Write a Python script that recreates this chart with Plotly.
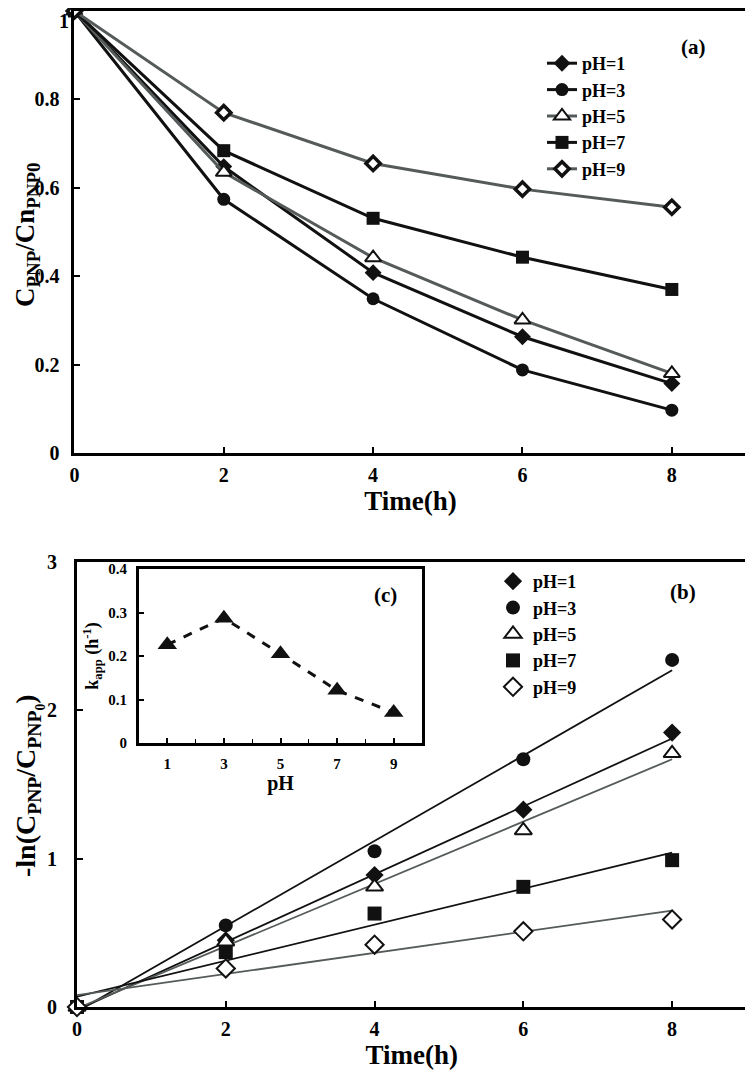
import plotly.graph_objects as go

time_h = [0, 2, 4, 6, 8]
labels = ["pH=1", "pH=3", "pH=5", "pH=7", "pH=9"]

# (a) C/C0 vs time
c_ph1 = [1, 0.648, 0.408, 0.263, 0.157]
c_ph3 = [1, 0.574, 0.349, 0.188, 0.097]
c_ph5 = [1, 0.635, 0.442, 0.301, 0.180]
c_ph7 = [1, 0.684, 0.531, 0.443, 0.370]
c_ph9 = [1, 0.770, 0.655, 0.597, 0.556]

# (b) -ln(C/C0) vs time
ln_ph1 = [0, 0.45, 0.89, 1.33, 1.85]
ln_ph3 = [0, 0.55, 1.05, 1.67, 2.34]
ln_ph5 = [0, 0.44, 0.81, 1.19, 1.71]
ln_ph7 = [0, 0.37, 0.63, 0.81, 0.99]
ln_ph9 = [0, 0.26, 0.42, 0.51, 0.59]

# linear fits, read at t=0 and t=8
fit_t = [0, 8]
fit_ph1 = [-0.02, 1.81]
fit_ph3 = [-0.03, 2.27]
fit_ph5 = [-0.01, 1.67]
fit_ph7 = [0.07, 1.04]
fit_ph9 = [0.08, 0.65]

# (c) k_app vs pH
ph_vals = [1, 3, 5, 7, 9]
k_app = [0.226, 0.287, 0.205, 0.121, 0.070]

FONT = "Liberation Serif"
BLACK = "#111111"
GRAY = "#555a5a"

# page has an 8px body margin, so the figure is sized to fit the window
W, H, OFF = 745, 1068, 8


def xp(px):
    return (px - OFF) / W


def yp(py):
    return 1 - (py - OFF) / H


styles = [
    dict(symbol="diamond", size=13, color=BLACK, line=dict(width=0), lc=BLACK),
    dict(symbol="circle", size=13, color=BLACK, line=dict(width=0), lc=BLACK),
    dict(symbol="triangle-up", size=14, color="white", line=dict(width=2, color=BLACK), lc=GRAY),
    dict(symbol="square", size=13, color=BLACK, line=dict(width=0), lc=BLACK),
    dict(symbol="diamond", size=11, color="white", line=dict(width=3.5, color=BLACK), lc=GRAY),
]
styles_b = [
    dict(symbol="diamond", size=14, color=BLACK, line=dict(width=0)),
    dict(symbol="circle", size=14, color=BLACK, line=dict(width=0)),
    dict(symbol="triangle-up", size=15, color="white", line=dict(width=2, color=BLACK)),
    dict(symbol="square", size=14, color=BLACK, line=dict(width=0)),
    dict(symbol="diamond", size=14, color="white", line=dict(width=2, color=BLACK)),
]

fig = go.Figure()

for name, ys, st in zip(labels, [c_ph1, c_ph3, c_ph5, c_ph7, c_ph9], styles):
    fig.add_trace(go.Scatter(
        x=time_h, y=ys, mode="lines+markers", name=name, legend="legend",
        line=dict(color=st["lc"], width=3),
        marker=dict(symbol=st["symbol"], size=st["size"], color=st["color"], line=st["line"]),
        cliponaxis=False, xaxis="x", yaxis="y"))

fit_colors = [BLACK, BLACK, GRAY, BLACK, GRAY]
for fy, fc in zip([fit_ph1, fit_ph3, fit_ph5, fit_ph7, fit_ph9], fit_colors):
    fig.add_trace(go.Scatter(
        x=fit_t, y=fy, mode="lines", showlegend=False,
        line=dict(color=fc, width=1.8), xaxis="x2", yaxis="y2"))

for name, ys, st in zip(labels, [ln_ph1, ln_ph3, ln_ph5, ln_ph7, ln_ph9], styles_b):
    fig.add_trace(go.Scatter(
        x=time_h, y=ys, mode="markers", name=name, legend="legend2",
        marker=dict(symbol=st["symbol"], size=st["size"], color=st["color"], line=st["line"]),
        cliponaxis=False, xaxis="x2", yaxis="y2"))

fig.add_trace(go.Scatter(
    x=ph_vals, y=k_app, mode="lines+markers", showlegend=False,
    line=dict(color=BLACK, width=3, dash="dash"),
    marker=dict(symbol="triangle-up", size=17, color=BLACK),
    cliponaxis=False, xaxis="x3", yaxis="y3"))

tickfont = dict(family=FONT, size=20, color="black", weight="bold")
titlefont = dict(family=FONT, size=27, color="black", weight="bold")
main_axis = dict(showline=True, linewidth=3, linecolor="black", mirror=True,
                 showgrid=False, zeroline=False, ticks="inside", ticklen=6,
                 tickwidth=1.5, tickcolor="black", tickfont=tickfont, automargin=False,
                 ticklabeloverflow="allow")

small_tick = dict(family=FONT, size=15, color="black", weight="bold")
inset_axis = dict(showline=True, linewidth=3, linecolor="black", mirror=True,
                  showgrid=False, zeroline=False, ticks="inside", ticklen=5,
                  tickwidth=1.5, tickcolor="black", tickfont=small_tick, automargin=False,
                  ticklabeloverflow="allow")

ann_font = dict(family=FONT, size=21, color="black", weight="bold")

fig.update_layout(
    width=W, height=H,
    margin=dict(l=0, r=0, t=0, b=0),
    paper_bgcolor="white", plot_bgcolor="white",
    font=dict(family=FONT, color="black"),
    xaxis=dict(main_axis, domain=[xp(74.4), xp(746.5)], range=[0, 9], tickvals=[0, 2, 4, 6, 8],
               anchor="y", ticklabelstandoff=2,
               title=dict(text="Time(h)", font=titlefont, standoff=0)),
    # the "1" label sits at the page's top edge, so it is drawn as an annotation
    yaxis=dict(main_axis, domain=[yp(453), yp(11)], range=[0, 1],
               tickvals=[0, 0.2, 0.4, 0.6, 0.8], ticktext=["0", "0.2", "0.4", "0.6", "0.8"],
               anchor="x", ticklabelstandoff=8),
    xaxis2=dict(main_axis, domain=[xp(77), xp(746.5)], range=[0, 9], tickvals=[0, 2, 4, 6, 8],
                anchor="y2", ticklabelstandoff=2,
                title=dict(text="Time(h)", font=titlefont, standoff=0)),
    yaxis2=dict(main_axis, domain=[yp(1007), yp(562)], range=[0, 3], tickvals=[0, 1, 2, 3],
                anchor="x2", ticklabelstandoff=13),
    xaxis3=dict(inset_axis, domain=[xp(139), xp(422)], range=[0, 10],
                tickvals=[1, 3, 5, 7, 9],
                minor=dict(tick0=0, dtick=1, ticks="inside", ticklen=4, tickwidth=1.2, tickcolor="black"),
                anchor="y3", ticklabelstandoff=5,
                title=dict(text="pH", font=dict(family=FONT, size=20, color="black", weight="bold"), standoff=0)),
    yaxis3=dict(inset_axis, domain=[yp(743), yp(569)], range=[0, 0.4],
                tickvals=[0, 0.1, 0.2, 0.3, 0.4], ticktext=["0", "0.1", "0.2", "0.3", "0.4"],
                anchor="x3", ticklabelstandoff=6,
                title=dict(text="k<sub>app</sub> (h<sup>-1</sup>)",
                           font=dict(family=FONT, size=18, color="black", weight="bold"), standoff=5)),
    legend=dict(x=xp(542), y=yp(45), xanchor="left", yanchor="top", bgcolor="rgba(0,0,0,0)",
                font=dict(family=FONT, size=18, color="black", weight="bold"),
                tracegroupgap=0, itemwidth=30),
    legend2=dict(x=xp(493), y=yp(563), xanchor="left", yanchor="top", bgcolor="rgba(0,0,0,0)",
                 font=dict(family=FONT, size=18, color="black", weight="bold"),
                 tracegroupgap=0, itemwidth=30),
    annotations=[
        dict(text="(a)", x=xp(693), y=yp(47), xref="paper", yref="paper", xanchor="center",
             yanchor="middle", showarrow=False, font=ann_font),
        dict(text="(b)", x=xp(683), y=yp(592), xref="paper", yref="paper", xanchor="center",
             yanchor="middle", showarrow=False, font=ann_font),
        dict(text="(c)", x=xp(385), y=yp(595), xref="paper", yref="paper", xanchor="center",
             yanchor="middle", showarrow=False, font=ann_font),
        dict(text="1", x=xp(71), y=yp(21), xref="paper", yref="paper", xanchor="right",
             yanchor="middle", showarrow=False, font=tickfont),
        dict(text="C<sub>PNP</sub>/Cn<sub>PNP0</sub>", x=xp(8), y=yp(235), xref="paper", yref="paper",
             xanchor="left", yanchor="middle", textangle=-90, showarrow=False,
             font=dict(family=FONT, size=27, color="black", weight="bold")),
        dict(text="-ln(C<sub>PNP</sub>/C<sub>PNP<sub>0</sub></sub>)", x=xp(8), y=yp(786),
             xref="paper", yref="paper", xanchor="left", yanchor="middle", textangle=-90,
             showarrow=False, font=dict(family=FONT, size=28, color="black", weight="bold")),
    ],
    showlegend=True,
)

fig.write_html("out.html")
